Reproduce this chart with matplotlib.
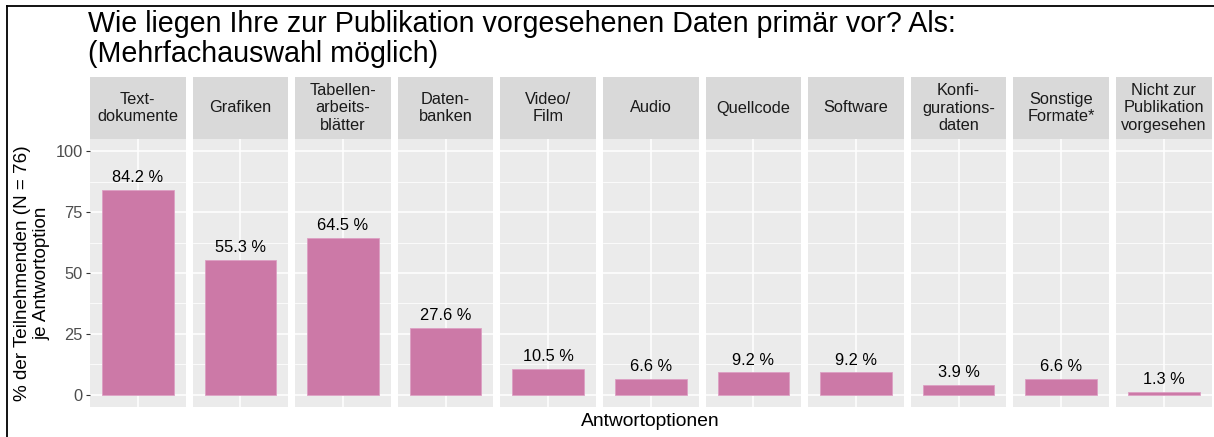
import matplotlib
matplotlib.use("Agg")
import matplotlib.pyplot as plt
from matplotlib.lines import Line2D

plt.rcParams['font.family'] = ['Liberation Sans', 'DejaVu Sans']

categories = ["Text-\ndokumente", "Grafiken", "Tabellen-\narbeits-\nblätter", "Daten-\nbanken",
              "Video/\nFilm", "Audio", "Quellcode", "Software", "Konfi-\ngurations-\ndaten",
              "Sonstige\nFormate*", "Nicht zur\nPublikation\nvorgesehen"]
values = [84.2, 55.3, 64.5, 27.6, 10.5, 6.6, 9.2, 9.2, 3.9, 6.6, 1.3]
y_ticks = [0, 25, 50, 75, 100]
y_minor = [12.5, 37.5, 62.5, 87.5]
title = "Wie liegen Ihre zur Publikation vorgesehenen Daten primär vor? Als:\n(Mehrfachauswahl möglich)"
y_label = "% der Teilnehmenden (N = 76)\nje Antwortoption"
x_label = "Antwortoptionen"

W, H = 1214, 437
fig = plt.figure(figsize=(W / 100, H / 100), dpi=100)
fig.patch.set_facecolor("white")

bar_color = "#CC79A7"
panel_bg = "#EBEBEB"
strip_bg = "#D9D9D9"

left0 = 90.0
pitch = 102.6
pw = 95.5
p_top = 139.0
p_bot = 407.0
s_top = 77.0

for i, (cat, val) in enumerate(zip(categories, values)):
    x0 = left0 + i * pitch
    ax = fig.add_axes([x0 / W, 1 - p_bot / H, pw / W, (p_bot - p_top) / H])
    ax.set_facecolor(panel_bg)
    ax.set_xlim(0.4, 1.6)
    ax.set_ylim(-5, 105)
    for y in y_minor:
        ax.axhline(y, color="white", lw=0.55, zorder=0.5)
    for y in y_ticks:
        ax.axhline(y, color="white", lw=1.1, zorder=0.6)
    ax.axvline(1, color="white", lw=1.1, zorder=0.6)
    ax.bar([1], [val], width=0.9, color=bar_color, edgecolor="#DDA0C4", linewidth=0.6, zorder=2)
    ax.annotate(f"{val:.1f} %", xy=(1, val), xytext=(0, 3.5), textcoords="offset points",
                ha="center", va="bottom", fontsize=11.8, color="black", zorder=3)
    for s in ax.spines.values():
        s.set_visible(False)
    ax.set_xticks([])
    if i == 0:
        ax.set_yticks(y_ticks)
        ax.set_yticklabels([str(t) for t in y_ticks])
        ax.tick_params(axis="y", length=3.2, width=0.8, color="#333333", labelcolor="#4D4D4D",
                       labelsize=11.8, pad=2)
    else:
        ax.set_yticks([])
    # strip
    sax = fig.add_axes([x0 / W, 1 - p_top / H, pw / W, (p_top - s_top) / H])
    sax.set_facecolor(strip_bg)
    sax.set_xticks([]); sax.set_yticks([])
    for s in sax.spines.values():
        s.set_visible(False)
    sax.text(0.5, 0.5, cat, ha="center", va="center", fontsize=11.8, color="#1A1A1A",
             linespacing=1.2, transform=sax.transAxes)

fig.text(88 / W, 1 - 10 / H, title, ha="left", va="top", fontsize=20.6, color="black", linespacing=1.1)
fig.text(650 / W, 1 - 422 / H, x_label, ha="center", va="center", fontsize=13.9, color="black")
fig.text(32 / W, 1 - 273 / H, y_label, ha="center", va="center", rotation=90, fontsize=13.6,
         color="black", linespacing=1.17)

fig.add_artist(Line2D([7 / W, 7 / W], [0, 1 - 6 / H], color="black", lw=1.3, transform=fig.transFigure))
fig.add_artist(Line2D([7 / W, 1], [1 - 6 / H, 1 - 6 / H], color="black", lw=1.3, transform=fig.transFigure))

fig.savefig("out.png", dpi=100)
